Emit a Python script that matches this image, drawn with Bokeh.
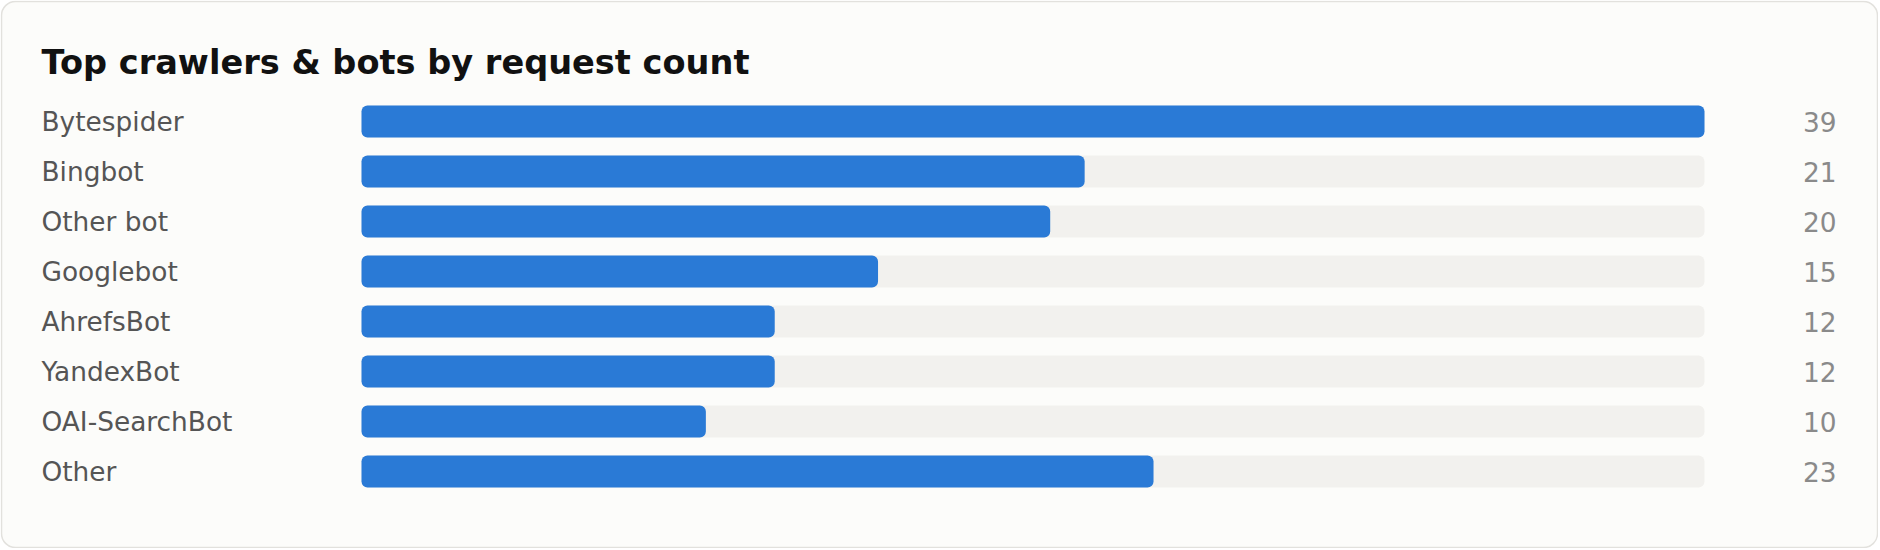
from bokeh.plotting import figure
from bokeh.models import ColumnDataSource, Range1d, BoxAnnotation
from bokeh.core.properties import value
from bokeh.embed import file_html
from bokeh.resources import INLINE

# ---- data ----
bots = ["Bytespider", "Bingbot", "Other bot", "Googlebot", "AhrefsBot",
        "YandexBot", "OAI-SearchBot", "Other"]
requests = [39, 21, 20, 15, 12, 12, 10, 23]
title_text = "Top crawlers & bots by request count"

# ---- layout constants (figure pixels) ----
W, H = 1878, 548
BAR_LEFT_PX = 361
BAR_RIGHT_PX = 1704
ROW0_PY = 121
ROW_PX = 50
BAR_H_PX = 32
LABEL_PX = 41
VALUE_PX = 1836
TITLE_MID_PY = 61.5

vmax = max(requests)
PPU = (BAR_RIGHT_PX - BAR_LEFT_PX) / vmax


def xd(px):
    return (px - BAR_LEFT_PX) / PPU


def yd(py):
    return (py - ROW0_PY) / ROW_PX


FONT = value("DejaVu Sans")
BLUE = "#2a7ad6"
TRACK = "#f2f1ee"
CARD = "#fcfcfa"
BORDER = "#e2e1dd"

src = ColumnDataSource(dict(
    name=bots,
    val=requests,
    idx=list(range(len(bots))),
    full=[vmax] * len(bots),
    lbl=[str(v) for v in requests],
))

p = figure(width=W, height=H, output_backend="svg", toolbar_location=None,
           x_range=Range1d(xd(0), xd(W)), y_range=Range1d(yd(H), yd(0)),
           x_axis_location=None, y_axis_location=None, min_border=0,
           background_fill_color="white", border_fill_color="white",
           outline_line_color=None)
p.grid.visible = False

card = BoxAnnotation(left=xd(1), right=xd(W - 1), top=yd(1), bottom=yd(H - 1),
                     fill_color=CARD, fill_alpha=1, line_color=BORDER,
                     line_width=1.5, line_alpha=1, border_radius=14,
                     level="underlay")
p.add_layout(card)

bh = BAR_H_PX / ROW_PX
p.hbar(y="idx", left=0, right="full", height=bh, source=src,
       fill_color=TRACK, line_color=None, border_radius=6)
p.hbar(y="idx", left=0, right="val", height=bh, source=src,
       fill_color=BLUE, line_color=None, border_radius=6)

p.text(x=xd(LABEL_PX), y="idx", text="name", source=src,
       text_font=FONT, text_font_size="26.4px", text_color="#555555",
       text_align="left", text_baseline="middle")
p.text(x=xd(VALUE_PX), y="idx", text="lbl", source=src,
       text_font=FONT, text_font_size="26.4px", text_color="#8a8a8a",
       text_align="right", text_baseline="middle")

p.text(x=[xd(LABEL_PX)], y=[yd(TITLE_MID_PY)], text=[title_text],
       text_font=FONT, text_font_size="33.6px", text_font_style="bold",
       text_color="#111111", text_align="left", text_baseline="middle")

open("out.html", "w").write(file_html(p, INLINE))
